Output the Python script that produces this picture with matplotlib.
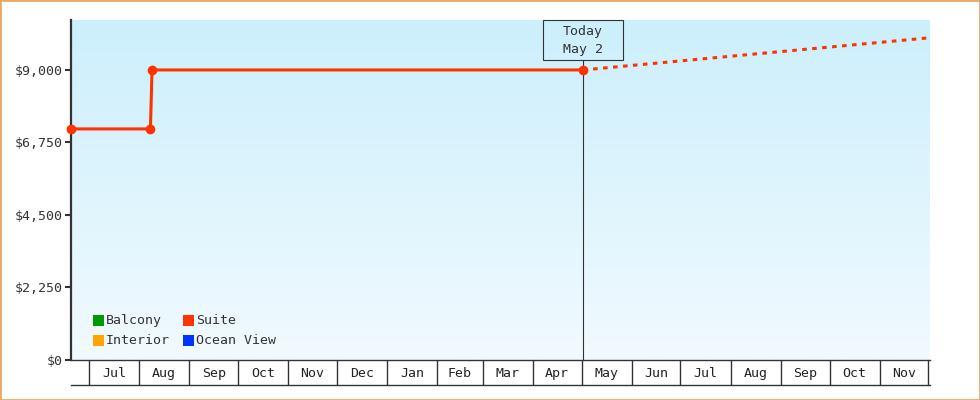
import matplotlib
matplotlib.use('Agg')
import matplotlib.pyplot as plt
import matplotlib.dates as mdates
import matplotlib.patches as patches
import pandas as pd
import numpy as np

# Data
suite_dates = ['2024-06-20', '2024-08-08', '2024-08-09', '2025-05-02']
suite_prices = [7170, 7170, 9000, 9000]
proj_dates = ['2025-05-02', '2025-12-02']
proj_prices = [9000, 10000]
today = '2025-05-02'
today_label = 'Today\nMay 2'
legend_names = ['Balcony', 'Interior', 'Suite', 'Ocean View']
legend_colors = ['#009900', '#ffa500', '#ff3300', '#0033ff']
y_ticks = [0, 2250, 4500, 6750, 9000]
x_start, x_end = '2024-06-20', '2025-12-02'
y_max = 10550
month_starts = pd.date_range('2024-07-01', '2025-12-01', freq='MS')

# Styles
W, H = 980, 400
SUITE_COLOR = '#ff3300'
DARK = '#333333'
FS = 9.5
plt.rcParams['font.family'] = ['DejaVu Sans Mono']
plt.rcParams['lines.scale_dashes'] = False


def fx(px):
    return px / W


def fy(py):
    return 1 - py / H


fig = plt.figure(figsize=(W / 100, H / 100), dpi=100)
ax = fig.add_axes([fx(71), fy(360), fx(859), 340 / H])

# Background gradient
top_c = np.array([204, 239, 252]) / 255.0
bot_c = np.array([241, 250, 255]) / 255.0
t = np.linspace(0, 1, 256)[:, None]
grad = (top_c * (1 - t) + bot_c * t)[:, None, :]
ax.imshow(grad, extent=(0, 1, 0, 1), transform=ax.transAxes, aspect='auto', zorder=0)

sd = pd.to_datetime(suite_dates)
pd_ = pd.to_datetime(proj_dates)
ax.plot(sd, suite_prices, color=SUITE_COLOR, lw=2.2, marker='o', ms=6, zorder=5, clip_on=False)
ax.plot(pd_, proj_prices, color=SUITE_COLOR, lw=2.2, dashes=(3.3, 3.9), zorder=4)

ax.set_xlim(pd.Timestamp(x_start), pd.Timestamp(x_end))
ax.set_ylim(0, y_max)

# Axes styling
ax.set_xticks([])
ax.set_yticks(y_ticks)
ax.set_yticklabels([f"${v:,}" for v in y_ticks], fontsize=FS, color=DARK)
ax.tick_params(axis='y', length=4, width=1.5, color=DARK, pad=2)
for s in ['top', 'right']:
    ax.spines[s].set_visible(False)
ax.spines['left'].set_linewidth(1.6)
ax.spines['left'].set_color(DARK)
ax.spines['bottom'].set_linewidth(1.0)
ax.spines['bottom'].set_color(DARK)

# Today marker
today_ts = pd.Timestamp(today)
ax.axvline(today_ts, ymin=0, ymax=(360 - 60) / 340, color=DARK, lw=0.8, zorder=3)
tx = ax.transData.transform((mdates.date2num(today_ts), 0))[0]
fig.add_artist(patches.Rectangle((fx(tx - 40), fy(60)), fx(80), 40 / H, transform=fig.transFigure,
                                 fill=False, edgecolor=DARK, lw=0.8))
fig.text(fx(tx), fy(40.5), today_label, ha='center', va='center', fontsize=FS, color=DARK,
         linespacing=1.4)

# Month row
rax = fig.add_axes([fx(71), fy(385), fx(859), 25 / H], sharex=ax)
rax.set_ylim(0, 1)
rax.axis('off')
rax.axhline(0, color=DARK, lw=1.0, clip_on=False)
rax.vlines(month_starts, 0, 1, color=DARK, lw=1.0)
for a, b in zip(month_starts[:-1], month_starts[1:]):
    rax.text(a + (b - a) / 2, 0.45, a.strftime('%b'), ha='center', va='center', fontsize=FS, color='#222222')
ax.set_xlim(pd.Timestamp(x_start), pd.Timestamp(x_end))

# Legend
col_x = [93, 183]
row_y = [320.5, 340.5]
for i, (name, color) in enumerate(zip(legend_names, legend_colors)):
    c, r = i // 2, i % 2
    fig.add_artist(patches.Rectangle((fx(col_x[c]), fy(row_y[r] + 5.5)), fx(11), 11 / H,
                                     transform=fig.transFigure, facecolor=color, edgecolor='none'))
    fig.text(fx(col_x[c] + 13), fy(row_y[r]), name, ha='left', va='center', fontsize=FS, color=DARK)

# Border
fig.add_artist(patches.Rectangle((0, 0), 1, 1, transform=fig.transFigure, fill=False,
                                 edgecolor='#e8a964', lw=2))

fig.savefig('out.png', dpi=100)
